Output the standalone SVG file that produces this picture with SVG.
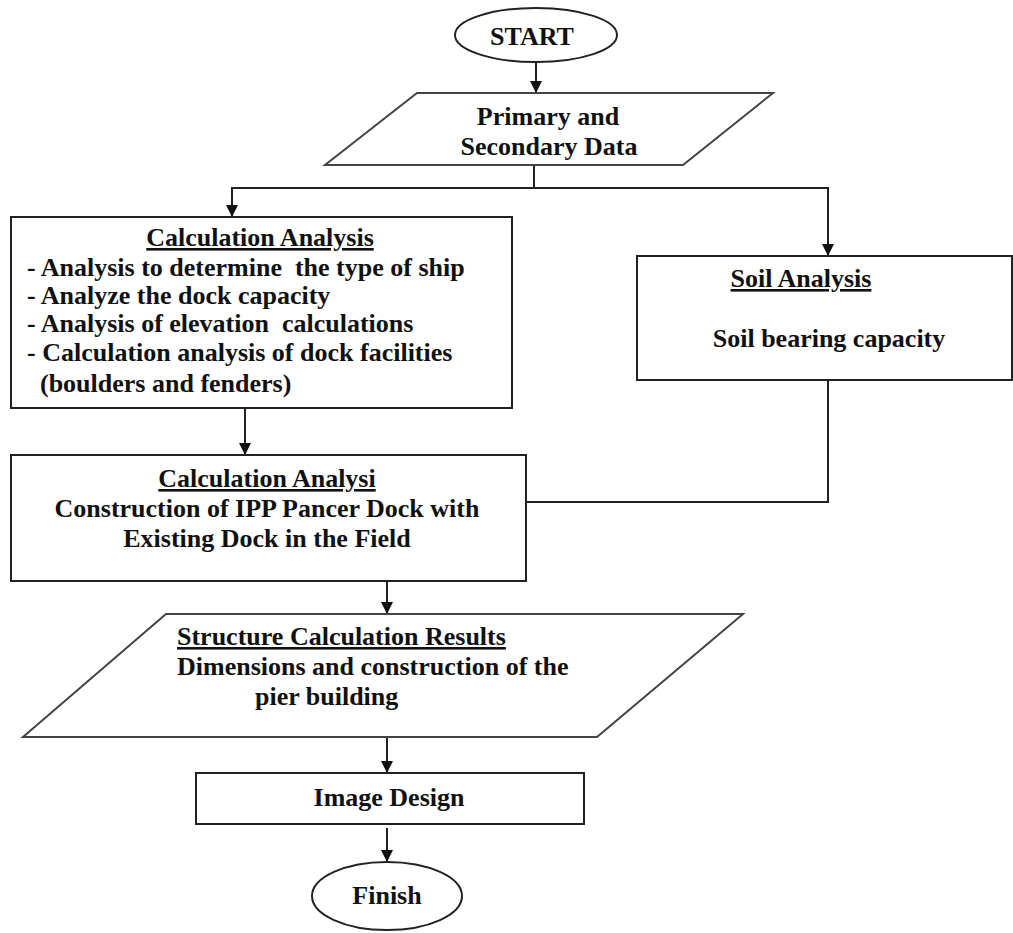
<svg xmlns="http://www.w3.org/2000/svg" width="1013" height="933" viewBox="0 0 1013 933">
<style>
.shape{fill:#fff;stroke:#222;stroke-width:2}
.para{fill:#fff;stroke:#444;stroke-width:2}
.t{font-family:"Liberation Serif","Times New Roman",serif;font-weight:bold;font-size:26px;fill:#111}
.m{text-anchor:middle}
.u{text-decoration:underline}
.c{fill:none;stroke:#222;stroke-width:2}
</style>
<defs>
<marker id="ah" markerWidth="12" markerHeight="12" viewBox="0 0 12 12" refX="11" refY="6" orient="auto" markerUnits="userSpaceOnUse">
<path d="M0,0 L12,6 L0,12 Z" fill="#111"/>
</marker>
</defs>
<rect width="1013" height="933" fill="#fff"/>
<g id="connectors">
<path class="c" d="M536,63 V92" marker-end="url(#ah)"/>
<path class="c" d="M534,165 V188"/>
<path class="c" d="M534,188 H232 V216" marker-end="url(#ah)"/>
<path class="c" d="M534,188 H828 V255" marker-end="url(#ah)"/>
<path class="c" d="M245,408 V454" marker-end="url(#ah)"/>
<path class="c" d="M828,380 V502 H527"/>
<path class="c" d="M387,581 V613" marker-end="url(#ah)"/>
<path class="c" d="M387,737 V772" marker-end="url(#ah)"/>
<path class="c" d="M387,828 V861" marker-end="url(#ah)"/>
</g>
<g id="start">
<ellipse class="shape" cx="536" cy="35" rx="81" ry="27" stroke-width="1.5"/>
<text class="t m" x="532" y="45">START</text>
</g>
<g id="data">
<polygon class="para" points="417,93 773,93 683,165 325,165"/>
<text class="t m" x="548" y="125">Primary and</text>
<text class="t m" x="549" y="155">Secondary Data</text>
</g>
<g id="calc1">
<rect class="shape" x="11" y="217" width="501" height="191"/>
<text class="t m u" x="260" y="246">Calculation Analysis</text>
<text class="t" x="27" y="276" xml:space="preserve">- Analysis to determine  the type of ship</text>
<text class="t" x="27" y="304">- Analyze the dock capacity</text>
<text class="t" x="27" y="332" xml:space="preserve">- Analysis of elevation  calculations</text>
<text class="t" x="27" y="361">- Calculation analysis of dock facilities</text>
<text class="t" x="40" y="392">(boulders and fenders)</text>
</g>
<g id="soil">
<rect class="shape" x="637" y="256" width="375" height="124"/>
<text class="t m u" x="801" y="287">Soil Analysis</text>
<text class="t m" x="829" y="347">Soil bearing capacity</text>
</g>
<g id="calc2">
<rect class="shape" x="11" y="455" width="515" height="126"/>
<text class="t m u" x="267" y="487">Calculation Analysi</text>
<text class="t m" x="267" y="517">Construction of IPP Pancer Dock with</text>
<text class="t m" x="267" y="547">Existing Dock in the Field</text>
</g>
<g id="results">
<polygon class="para" points="166,614 743,614 597,737 23,737"/>
<text class="t u" x="177" y="645">Structure Calculation Results</text>
<text class="t" x="177" y="675">Dimensions and construction of the</text>
<text class="t" x="255" y="705">pier building</text>
</g>
<g id="design">
<rect class="shape" x="196" y="773" width="388" height="51"/>
<text class="t m" x="389" y="806">Image Design</text>
</g>
<g id="finish">
<ellipse class="shape" cx="387" cy="896" rx="75" ry="34" stroke-width="1.5"/>
<text class="t m" x="387" y="904">Finish</text>
</g>
</svg>
